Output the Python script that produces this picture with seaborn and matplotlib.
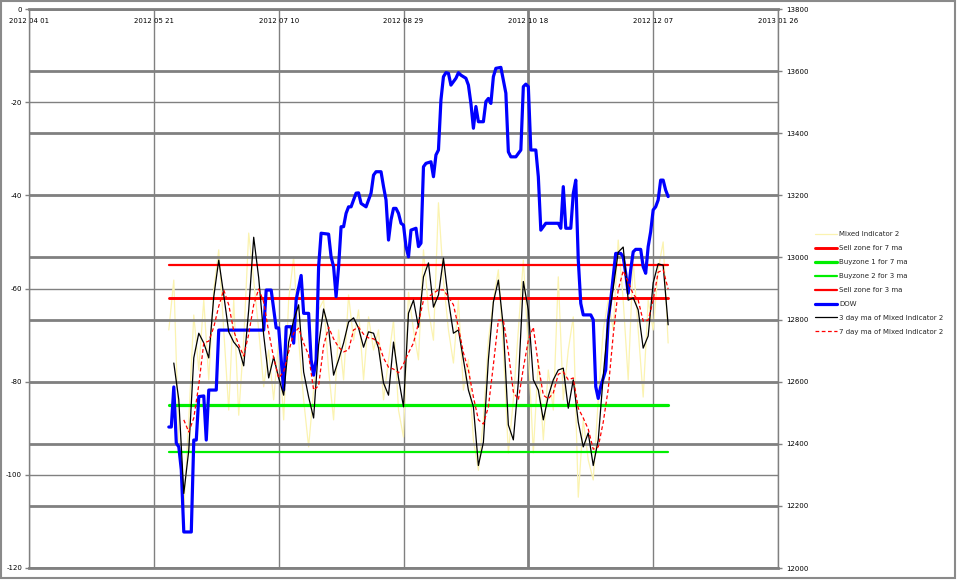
import numpy as np
import pandas as pd
import matplotlib
matplotlib.use("Agg")
import matplotlib.pyplot as plt
from matplotlib.patches import Rectangle
import seaborn as sns

# ---------------- data ----------------
ind_dates = pd.date_range("2012-05-27", "2012-12-13", freq="2D")

mixed_indicator = [
    -68.9, -58.2, -92.5, -107.5, -88.2, -65.7, -77.5, -62.5, -79.6, -60.3,
    -51.7, -68.9, -86.1, -62.5, -87.2, -71.1, -48.1, -58.2, -68.9, -81.1,
    -73.2, -83.9, -71.1, -88.2, -62.5, -53.2, -71.1, -83.9, -94.0, -81.8,
    -64.6, -62.5, -77.5, -88.2, -68.9, -79.6, -61.4, -71.1, -64.6, -79.6,
    -66.1, -73.2, -68.9, -83.9, -75.3, -66.8, -86.1, -91.9, -60.8, -68.9,
    -75.3, -51.7, -64.6, -71.1, -41.6, -58.2, -68.9, -76.0, -62.5, -81.8,
    -75.3, -92.5, -99.0, -88.2, -71.1, -62.5, -56.0, -73.2, -95.3, -83.9,
    -68.9, -53.9, -73.2, -95.3, -75.3, -92.5, -77.5, -86.1, -57.5, -83.9,
    -73.2, -66.1, -104.8, -88.2, -96.8, -101.1, -83.9, -68.9, -62.5, -68.9,
    -49.6, -62.5, -79.6, -53.9, -68.9, -83.3, -62.5, -68.9, -56.0, -50.0,
    -71.7]

ma3 = [
    np.nan, -76.0, -83.9, -104.0, -94.7, -74.9, -69.6, -71.7, -74.9, -61.8,
    -53.9, -61.4, -69.3, -71.5, -72.8, -76.6, -64.6, -49.0, -57.7, -70.0,
    -79.2, -74.7, -79.2, -82.9, -71.5, -66.8, -63.5, -77.9, -83.3, -87.8,
    -72.1, -64.4, -68.5, -78.6, -75.3, -71.7, -67.2, -66.3, -68.5, -72.6,
    -69.3, -69.6, -72.8, -80.3, -82.9, -71.5, -79.2, -85.4, -65.3, -62.5,
    -68.3, -57.5, -54.5, -64.0, -61.4, -53.5, -62.5, -69.6, -68.9, -75.3,
    -81.8, -85.4, -98.0, -93.0, -75.3, -62.9, -58.2, -68.3, -89.3, -92.5,
    -80.1, -58.5, -64.6, -79.6, -81.8, -88.2, -83.1, -79.6, -77.5, -77.1,
    -85.7, -79.6, -88.7, -94.0, -91.0, -98.0, -92.5, -78.8, -66.8, -59.9,
    -52.2, -51.1, -62.5, -62.0, -64.6, -72.8, -70.2, -58.8, -54.7, -55.0,
    -67.8]

ma7 = [
    np.nan, np.nan, np.nan, -88.2, -90.8, -87.8, -80.7, -71.7, -71.3, -68.3,
    -63.8, -60.3, -63.5, -69.1, -72.1, -74.5, -69.8, -63.5, -60.1, -62.9,
    -69.3, -74.9, -79.2, -77.9, -73.6, -69.6, -68.5, -71.7, -74.3, -81.8,
    -80.9, -72.3, -68.3, -70.8, -72.6, -73.6, -73.2, -68.9, -68.3, -69.8,
    -70.6, -70.8, -71.7, -74.9, -76.9, -77.3, -78.1, -76.2, -73.8, -71.7,
    -67.4, -62.5, -61.8, -61.0, -60.3, -60.3, -61.8, -63.5, -68.3, -73.8,
    -77.5, -83.3, -88.2, -89.1, -85.4, -76.4, -66.8, -66.8, -73.6, -82.2,
    -83.9, -77.1, -71.1, -68.3, -76.4, -82.9, -83.7, -82.4, -78.4, -77.9,
    -79.6, -79.2, -85.7, -87.8, -90.2, -94.5, -94.0, -88.7, -81.6, -70.0,
    -60.3, -56.2, -58.6, -61.2, -62.5, -67.0, -66.8, -62.5, -56.5, -56.0,
    -60.1]

sell_zone_7ma = -62
sell_zone_3ma = -55
buy_zone1_7ma = -85
buy_zone2_3ma = -95

dow_dates = [
    "2012-05-27", "2012-05-28", "2012-05-29", "2012-05-30", "2012-05-31", "2012-06-01",
    "2012-06-02", "2012-06-05", "2012-06-06", "2012-06-07", "2012-06-08", "2012-06-10",
    "2012-06-11", "2012-06-12", "2012-06-15", "2012-06-16", "2012-07-04", "2012-07-05",
    "2012-07-07", "2012-07-09", "2012-07-10", "2012-07-12", "2012-07-13", "2012-07-15",
    "2012-07-16", "2012-07-17", "2012-07-19", "2012-07-20", "2012-07-22", "2012-07-23",
    "2012-07-24", "2012-07-25", "2012-07-26", "2012-07-27", "2012-07-30", "2012-07-31",
    "2012-08-01", "2012-08-02", "2012-08-03", "2012-08-04", "2012-08-05", "2012-08-06",
    "2012-08-07", "2012-08-08", "2012-08-10", "2012-08-11", "2012-08-12", "2012-08-14",
    "2012-08-16", "2012-08-17", "2012-08-18", "2012-08-20", "2012-08-21", "2012-08-22",
    "2012-08-23", "2012-08-24", "2012-08-25", "2012-08-26", "2012-08-27", "2012-08-28",
    "2012-08-29", "2012-08-30", "2012-08-31", "2012-09-01", "2012-09-03", "2012-09-04",
    "2012-09-05", "2012-09-06", "2012-09-07", "2012-09-09", "2012-09-10", "2012-09-11",
    "2012-09-12", "2012-09-13", "2012-09-14", "2012-09-15", "2012-09-16", "2012-09-17",
    "2012-09-19", "2012-09-20", "2012-09-21", "2012-09-23", "2012-09-24", "2012-09-25",
    "2012-09-26", "2012-09-27", "2012-09-28", "2012-09-30", "2012-10-01", "2012-10-02",
    "2012-10-03", "2012-10-04", "2012-10-05", "2012-10-07", "2012-10-09", "2012-10-10",
    "2012-10-11", "2012-10-13", "2012-10-15", "2012-10-16", "2012-10-17", "2012-10-18",
    "2012-10-19", "2012-10-21", "2012-10-22", "2012-10-23", "2012-10-25", "2012-10-30",
    "2012-10-31", "2012-11-01", "2012-11-02", "2012-11-04", "2012-11-05", "2012-11-06",
    "2012-11-07", "2012-11-08", "2012-11-09", "2012-11-12", "2012-11-13", "2012-11-14",
    "2012-11-15", "2012-11-16", "2012-11-18", "2012-11-19", "2012-11-20", "2012-11-22",
    "2012-11-24", "2012-11-25", "2012-11-26", "2012-11-27", "2012-11-28", "2012-11-29",
    "2012-11-30", "2012-12-02", "2012-12-03", "2012-12-04", "2012-12-05", "2012-12-06",
    "2012-12-07", "2012-12-08", "2012-12-09", "2012-12-10", "2012-12-11", "2012-12-12",
    "2012-12-13"]

dow_values = [
    12454, 12454, 12583, 12402, 12390, 12316,
    12116, 12116, 12412, 12412, 12552, 12554,
    12412, 12573, 12573, 12766, 12766, 12895,
    12895, 12773, 12773, 12573, 12777, 12777,
    12724, 12863, 12942, 12820, 12820, 12670,
    12621, 12670, 12970, 13078, 13075, 13002,
    12970, 12874, 12970, 13099, 13099, 13142,
    13163, 13163, 13207, 13208, 13174, 13163,
    13207, 13265, 13276, 13276, 13228, 13185,
    13056, 13121, 13158, 13158, 13142, 13110,
    13104, 13035, 13002, 13088, 13094, 13035,
    13046, 13292, 13303, 13308, 13260, 13330,
    13346, 13507, 13582, 13595, 13593, 13555,
    13577, 13595, 13587, 13577, 13555, 13496,
    13416, 13486, 13437, 13437, 13502, 13512,
    13496, 13582, 13609, 13612, 13529, 13340,
    13324, 13324, 13346, 13550, 13558, 13550,
    13346, 13346, 13260, 13088, 13110, 13110,
    13094, 13228, 13094, 13094, 13206, 13249,
    12992, 12852, 12815, 12815, 12799, 12584,
    12546, 12584, 12638, 12799, 12863, 13013,
    13013, 13002, 12949, 12885, 12960, 13018,
    13026, 13026, 12970, 12949, 13035, 13083,
    13153, 13163, 13185, 13249, 13249, 13217,
    13196]

x_tick_dates = ["2012-04-01", "2012-05-21", "2012-07-10", "2012-08-29",
                "2012-10-18", "2012-12-07", "2013-01-26"]
left_ticks = [-120, -100, -80, -60, -40, -20, 0]
right_ticks = [12000, 12200, 12400, 12600, 12800, 13000, 13200, 13400, 13600, 13800]

# ---------------- figure ----------------
sns.set_theme(style="white")
plt.rcParams["font.family"] = ["DejaVu Sans"]
GRID = "#808080"
FS = 5

fig = plt.figure(figsize=(9.6, 5.84), dpi=100, facecolor="white")
pos = [29 / 960, 1 - 568 / 584, (778 - 29) / 960, (568 - 9) / 584]
ax = fig.add_axes(pos)
ax_dow = ax.twinx()
ax_front = fig.add_axes(pos, sharex=ax, sharey=ax)
ax_front.patch.set_visible(False)
ax_front.axis("off")

ind = pd.DataFrame({"date": ind_dates, "mixed": mixed_indicator, "ma3": ma3, "ma7": ma7})
dow = pd.DataFrame({"date": pd.to_datetime(dow_dates), "dow": dow_values})
zone_x = [ind_dates[0], ind_dates[-1]]

sns.lineplot(data=ind, x="date", y="mixed", ax=ax, color="#fbf3b0", lw=0.9,
             label="Mixed Indicator 2")
sns.lineplot(x=zone_x, y=[sell_zone_3ma] * 2, ax=ax, color="#ff0000", lw=1.6,
             label="Sell zone for 3 ma")
sns.lineplot(x=zone_x, y=[sell_zone_7ma] * 2, ax=ax, color="#ff0000", lw=2.1,
             label="Sell zone for 7 ma")
sns.lineplot(x=zone_x, y=[buy_zone1_7ma] * 2, ax=ax, color="#00ee00", lw=2.3,
             label="Buyzone 1 for 7 ma")
sns.lineplot(x=zone_x, y=[buy_zone2_3ma] * 2, ax=ax, color="#00ee00", lw=1.6,
             label="Buyzone 2 for 3 ma")

sns.lineplot(data=dow, x="date", y="dow", ax=ax_dow, color="#0000ff", lw=2.3,
             label="DOW")

sns.lineplot(data=ind, x="date", y="ma3", ax=ax_front, color="black", lw=0.9,
             label="3 day ma of Mixed Indicator 2")
sns.lineplot(data=ind, x="date", y="ma7", ax=ax_front, color="#ff0000", lw=0.9,
             linestyle=(0, (3, 2)), label="7 day ma of Mixed Indicator 2")

# collect legend handles in reference order
handles, labels = [], []
for a in (ax, ax_dow, ax_front):
    h, l = a.get_legend_handles_labels()
    handles += h
    labels += l
    if a.get_legend() is not None:
        a.get_legend().remove()
order = ["Mixed Indicator 2", "Sell zone for 7 ma", "Buyzone 1 for 7 ma",
         "Buyzone 2 for 3 ma", "Sell zone for 3 ma", "DOW",
         "3 day ma of Mixed Indicator 2", "7 day ma of Mixed Indicator 2"]
hmap = dict(zip(labels, handles))
fig.legend([hmap[k] for k in order], order, loc="upper left",
           bbox_to_anchor=(815 / 960, 1 - 231 / 584), frameon=False, fontsize=FS,
           handlelength=3.2, handletextpad=0.3, labelspacing=1.15,
           borderaxespad=0, borderpad=0)

# axes limits / ticks
xt = pd.to_datetime(x_tick_dates)
ax.set_xlim(xt[0], xt[-1])
ax.set_xticks(xt)
ax.set_xticklabels([d.strftime("%Y %m %d") for d in xt])
ax.xaxis.tick_top()
ax.tick_params(axis="x", length=0, pad=-10.5, labelsize=FS, colors="black")
ax.set_ylim(-120, 0)
ax.set_yticks(left_ticks)
ax.set_yticklabels([str(v) for v in left_ticks])
ax.tick_params(axis="y", length=3, width=1, color=GRID, pad=2, labelsize=FS,
               labelcolor="black", direction="out", left=True)
ax_dow.set_ylim(12000, 13800)
ax_dow.set_yticks(right_ticks)
ax_dow.set_yticklabels([str(v) for v in right_ticks])
ax_dow.tick_params(axis="y", length=3, width=1, color=GRID, pad=3, labelsize=FS,
                   labelcolor="black", direction="out", right=True)
for a in (ax, ax_dow):
    a.set_xlabel("")
    a.set_ylabel("")

# grids
ax.grid(True, axis="both", color=GRID, lw=1)
ax.set_axisbelow(True)
ax_dow.grid(True, axis="y", color=GRID, lw=2)
ax_dow.grid(False, axis="x")
xg = ax.get_xgridlines()
if len(xg) > 4:
    xg[4].set_linewidth(2)

for s in ax_dow.spines.values():
    s.set_visible(False)
for name, s in ax.spines.items():
    s.set_color(GRID)
    s.set_linewidth(2 if name in ("top", "bottom") else 1)

# outer frame
fig.patches.append(Rectangle((1 / 960, 1 - 578 / 584), 954 / 960, 577 / 584,
                             transform=fig.transFigure, fill=False,
                             ec="#8a8a8a", lw=1.5))

fig.savefig("out.png", dpi=100, facecolor="white")
